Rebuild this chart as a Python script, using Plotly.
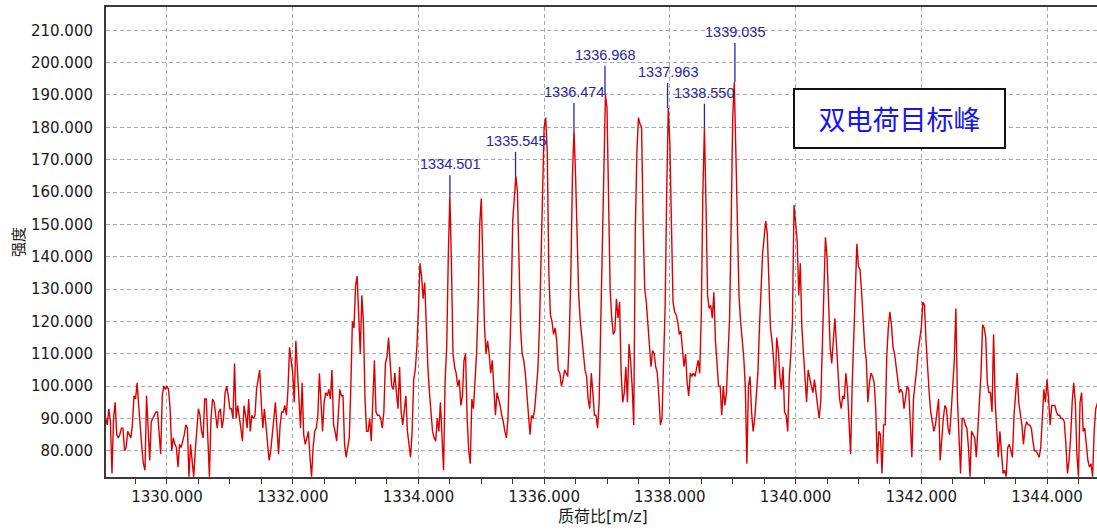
import numpy as np
import plotly.graph_objects as go

# Profile spectrum sampled on a regular m/z grid
mz_start = 1329.0
mz_step = 0.025

int_1329 = [94, 90, 88, 93, 89, 73, 90, 95, 85, 84, 85, 87, 87, 80, 81, 86, 85, 84, 88, 97,
            96, 101, 94, 86, 81, 76, 74, 97, 85, 77, 89, 90, 91, 92, 92, 86, 79, 97, 100, 99]
int_1330 = [100, 99, 93, 80, 84, 82, 81, 75, 82, 81, 83, 85, 88, 87, 72, 82, 77, 72, 80, 88,
            93, 91, 86, 84, 96, 96, 85, 72, 90, 96, 95, 91, 87, 92, 93, 87, 90, 98, 100, 97]
int_1331 = [93, 93, 90, 107, 90, 94, 91, 87, 83, 94, 91, 87, 96, 86, 91, 90, 91, 99, 102, 105,
            95, 87, 93, 88, 82, 77, 80, 86, 90, 95, 87, 79, 88, 92, 92, 94, 91, 99, 112, 108]
int_1332 = [104, 95, 114, 105, 95, 87, 101, 85, 82, 84, 86, 78, 72, 81, 86, 87, 91, 104, 94, 86,
            95, 98, 97, 99, 96, 105, 88, 86, 83, 91, 99, 97, 97, 82, 78, 81, 84, 100, 120, 118]
int_1333 = [131, 134, 122, 110, 128, 120, 96, 86, 86, 90, 83, 96, 108, 92, 91, 91, 90, 87, 92, 107,
            109, 115, 107, 100, 99, 104, 98, 93, 106, 92, 88, 92, 97, 86, 82, 78, 86, 102, 105, 112]
int_1334 = [124, 138, 134, 127, 132, 115, 106, 98, 91, 86, 84, 83, 90, 86, 95, 84, 74, 102, 112, 140,
            159, 138, 110, 106, 104, 100, 102, 94, 97, 108, 110, 90, 80, 76, 96, 93, 100, 110, 125, 150]
int_1335 = [158, 140, 119, 110, 114, 110, 104, 108, 99, 91, 98, 96, 94, 91, 89, 86, 84, 90, 105, 125,
            151, 159, 165, 160, 141, 118, 110, 108, 104, 98, 92, 85, 91, 90, 93, 100, 105, 118, 140, 165]
int_1336 = [180, 183, 172, 135, 122, 120, 116, 118, 114, 105, 104, 100, 102, 105, 104, 103, 115, 135, 165, 179,
            165, 145, 128, 120, 115, 112, 105, 103, 96, 93, 104, 98, 91, 91, 87, 95, 118, 141, 162, 190]
int_1337 = [186, 160, 130, 121, 116, 117, 127, 121, 126, 104, 95, 98, 106, 95, 113, 108, 100, 88, 148, 172,
            183, 181, 180, 150, 130, 126, 119, 110, 106, 111, 110, 106, 104, 97, 88, 90, 105, 125, 160, 186]
int_1338 = [175, 145, 126, 123, 122, 120, 116, 117, 112, 106, 110, 101, 97, 104, 103, 104, 103, 106, 108, 104,
            122, 160, 180, 156, 128, 124, 125, 121, 129, 114, 107, 100, 100, 91, 100, 94, 98, 110, 121, 150]
int_1339 = [183, 194, 175, 148, 128, 120, 114, 109, 100, 76, 100, 103, 92, 86, 90, 98, 104, 118, 133, 141,
            146, 151, 147, 133, 118, 114, 108, 99, 115, 111, 103, 99, 106, 92, 91, 86, 103, 110, 120, 156]
int_1340 = [151, 145, 128, 138, 118, 111, 103, 95, 105, 102, 100, 98, 102, 98, 94, 90, 95, 115, 129, 146,
            140, 126, 112, 107, 113, 121, 113, 105, 96, 93, 97, 96, 104, 99, 86, 79, 100, 114, 127, 144]
int_1341 = [137, 136, 129, 120, 112, 108, 95, 101, 104, 103, 101, 93, 76, 86, 85, 73, 88, 88, 109, 118,
            123, 119, 112, 110, 106, 102, 98, 99, 98, 93, 96, 100, 99, 90, 78, 96, 100, 105, 111, 114]
int_1342 = [118, 126, 125, 114, 105, 98, 92, 89, 86, 88, 93, 96, 77, 84, 90, 94, 93, 87, 85, 92,
            102, 108, 124, 96, 84, 73, 90, 90, 88, 87, 81, 72, 86, 85, 84, 78, 86, 94, 104, 119]
int_1343 = [118, 115, 101, 98, 98, 92, 116, 95, 85, 78, 86, 79, 73, 74, 72, 81, 82, 80, 78, 91,
            98, 104, 95, 91, 88, 82, 87, 89, 88, 88, 87, 83, 80, 80, 79, 78, 81, 92, 99, 95]
int_1344 = [102, 96, 88, 94, 94, 94, 92, 91, 91, 90, 90, 89, 82, 73, 77, 84, 95, 101, 95, 79,
            72, 95, 98, 86, 87, 82, 77, 75, 76, 72, 86, 93, 95, 97, 98]

intensity = (int_1329 + int_1330 + int_1331 + int_1332 + int_1333 + int_1334 + int_1335 + int_1336
             + int_1337 + int_1338 + int_1339 + int_1340 + int_1341 + int_1342 + int_1343 + int_1344)
mz = np.round(mz_start + mz_step * np.arange(len(intensity)), 3)

# Labelled centroid peaks and the height of their marker tops
peak_mz = [1334.501, 1335.545, 1336.474, 1336.968, 1337.963, 1338.550, 1339.035]
peak_label_int = [165.2, 172.4, 187.5, 199.0, 193.7, 187.3, 206.1]

x_tick_vals = [1330, 1332, 1334, 1336, 1338, 1340, 1342, 1344]
y_tick_vals = [80, 90, 100, 110, 120, 130, 140, 150, 160, 170, 180, 190, 200, 210]

box_text = "双电荷目标峰"
x_title = "质荷比[m/z]"
y_title = "强度"

LABEL_BLUE = "#2626a4"
AXIS_COLOR = "#3a3a3a"
GRID_COLOR = "#a8a8a8"

fig = go.Figure()

fig.add_trace(go.Scatter(
    x=mz, y=intensity, mode="lines",
    line=dict(color="#dc0000", width=1.4),
    hoverinfo="skip", showlegend=False,
))

# Stems: from the profile value at each labelled m/z up to the label height
stem_x, stem_y = [], []
for p, top in zip(peak_mz, peak_label_int):
    base = intensity[int(round((p - mz_start) / mz_step))]
    stem_x += [p, p, None]
    stem_y += [base, top, None]

fig.add_trace(go.Scatter(
    x=stem_x, y=stem_y, mode="lines",
    line=dict(color=LABEL_BLUE, width=1.3),
    hoverinfo="skip", showlegend=False,
))

annotations = []
for p, top in zip(peak_mz, peak_label_int):
    annotations.append(dict(
        x=p, y=top, xref="x", yref="y", text=f"{p:.3f}",
        showarrow=False, xanchor="center", yanchor="bottom", yshift=1,
        font=dict(family="Liberation Sans", size=14.5, color=LABEL_BLUE),
    ))

annotations.append(dict(
    x=0.8007, y=0.7628, xref="paper", yref="paper",
    text=box_text, showarrow=False, xanchor="center", yanchor="middle",
    width=209, height=57, borderpad=0, borderwidth=2,
    bordercolor="#111111", bgcolor="white",
    font=dict(family="Noto Sans CJK SC", size=27, color="#1616ee"),
))

annotations.append(dict(
    x=-0.0893, y=0.499, xref="paper", yref="paper",
    text=y_title, textangle=-90, showarrow=False,
    xanchor="center", yanchor="middle",
    font=dict(family="Noto Sans CJK SC", size=15, color="#1a1a1a"),
))

annotations.append(dict(
    x=0.5015, y=-0.083, xref="paper", yref="paper",
    text=x_title, showarrow=False, xanchor="center", yanchor="middle",
    font=dict(family="DejaVu Sans, Noto Sans CJK SC", size=16, color="#1a1a1a"),
))

fig.update_layout(
    width=1097, height=531,
    margin=dict(l=106, r=0, t=7, b=54, autoexpand=False),
    paper_bgcolor="white", plot_bgcolor="white",
    font=dict(family="DejaVu Sans", size=15, color="#1a1a1a"),
    annotations=annotations,
    showlegend=False,
)

fig.update_xaxes(
    range=[1329.03, 1344.795],
    tickmode="array", tickvals=x_tick_vals, tickformat=".3f",
    ticks="outside", ticklen=5, tickwidth=1, tickcolor=AXIS_COLOR,
    minor=dict(dtick=0.5, tick0=1329, ticks="outside", ticklen=5,
               tickwidth=1, tickcolor=AXIS_COLOR, showgrid=False),
    showline=True, linecolor=AXIS_COLOR, linewidth=2, mirror=True,
    showgrid=True, gridcolor=GRID_COLOR, gridwidth=1, griddash="4px,3px",
    zeroline=False,
    tickfont=dict(family="DejaVu Sans", size=15, color="#1a1a1a"),
)

fig.update_yaxes(
    range=[71.9, 217.2],
    tickmode="array", tickvals=y_tick_vals, tickformat=".3f",
    ticks="", ticklabelstandoff=8,
    showline=True, linecolor=AXIS_COLOR, linewidth=2,
    showgrid=True, gridcolor=GRID_COLOR, gridwidth=1, griddash="4px,3px",
    zeroline=False,
    tickfont=dict(family="DejaVu Sans", size=15, color="#1a1a1a"),
)

fig.write_html("out.html")
